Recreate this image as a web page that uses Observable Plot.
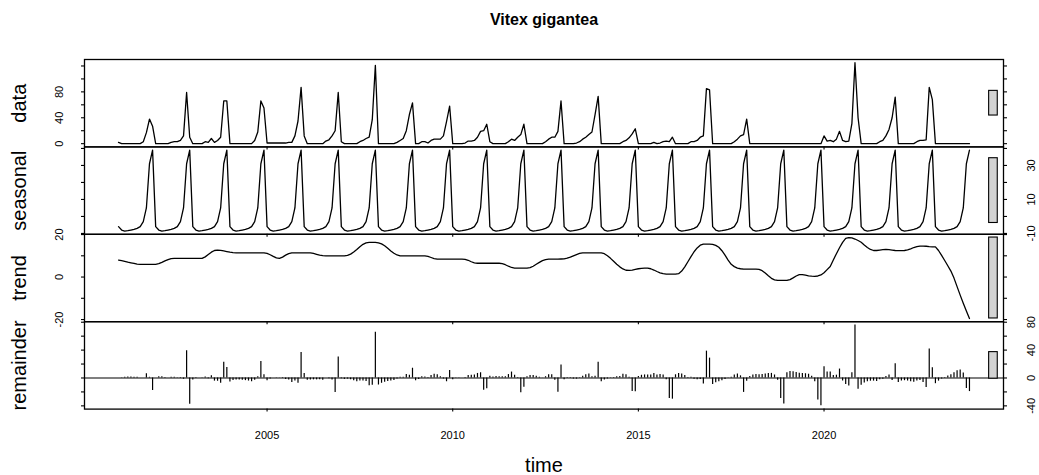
<!DOCTYPE html>
<html>
<head>
<meta charset="utf-8">
<script src="https://cdn.jsdelivr.net/npm/d3@7"></script>
<script src="https://cdn.jsdelivr.net/npm/@observablehq/plot@0.6"></script>
<style>
  body { margin: 0; background: #fff; }
  #chart { position: relative; width: 1039px; height: 475px; font-family: "Liberation Sans", Arial, sans-serif; }
  #chart svg { position: absolute; left: 0; top: 0; }
</style>
</head>
<body>
<div id="chart"></div>
<script>
// Monthly series, January 2001 to December 2023
const startYear = 2001;

// observed monthly values
const dataValues = [
  2, 0, 0, 0, 0, 0, 0, 0, 3, 17, 38, 27,        // 2001
  0, 0, 0, 0, 0, 2, 3, 3, 5, 12, 79, 10,        // 2002
  0, 0, 0, 0, 3, 2, 8, 2, 5, 10, 66, 66,        // 2003
  0, 0, 0, 0, 0, 0, 0, 0, 5, 18, 66, 55,        // 2004
  1, 1, 1, 1, 1, 1, 1, 2, 2, 12, 35, 87,        // 2005
  12, 0, 0, 0, 0, 0, 0, 4, 6, 12, 20, 79,       // 2006
  3, 0, 0, 0, 0, 0, 3, 5, 8, 10, 37, 121,       // 2007
  0, 0, 0, 0, 0, 0, 2, 5, 8, 20, 45, 63,        // 2008
  0, 0, 3, 3, 1, 5, 7, 7, 7, 12, 34, 58,        // 2009
  0, 0, 0, 0, 1, 4, 4, 5, 10, 19, 20, 30,       // 2010
  3, 0, 0, 0, 0, 0, 3, 7, 5, 10, 14, 30,        // 2011
  0, 0, 0, 0, 0, 0, 3, 7, 10, 10, 19, 66,       // 2012
  0, 0, 0, 0, 1, 3, 7, 10, 14, 18, 45, 73,      // 2013
  0, 0, 0, 0, 0, 0, 0, 3, 5, 9, 15, 23,         // 2014
  0, 0, 0, 0, 0, 2, 0, 1, 3, 4, 3, 10,          // 2015
  0, 0, 0, 0, 0, 3, 3, 5, 10, 12, 85, 83,       // 2016
  0, 0, 0, 0, 0, 0, 0, 3, 7, 12, 14, 38,        // 2017
  0, 0, 0, 0, 0, 0, 0, 0, 0, 0, 0, 0,           // 2018
  0, 0, 0, 0, 0, 0, 0, 0, 0, 0, 0, 0,           // 2019
  12, 4, 5, 3, 7, 19, 5, 3, 4, 31, 125, 40,     // 2020
  0, 0, 0, 0, 0, 0, 3, 5, 12, 22, 40, 72,       // 2021
  0, 0, 0, 0, 0, 0, 3, 5, 5, 6, 87, 68,         // 2022
  0, 0, 0, 0, 0, 0, 0, 0, 0, 0, 0, 0            // 2023
];

// periodic seasonal component, January .. December
const seasonalProfile = [-6, -8, -8.6, -8.4, -8, -7.6, -7, -6, -3, 5, 31, 39];

// trend component, one value per month
const trendValues = [
  8.0, 7.7, 7.4, 7.0, 6.7, 6.4, 6.1, 6.0, 6.0, 6.0, 6.0, 6.0,
  6.0, 6.3, 6.9, 7.6, 8.2, 8.7, 8.8, 8.8, 8.8, 8.8, 8.8, 8.8,
  8.8, 8.8, 8.8, 8.8, 9.5, 10.6, 11.7, 12.5, 12.7, 12.6, 12.3, 12.0,
  11.7, 11.5, 11.4, 11.4, 11.4, 11.4, 11.4, 11.4, 11.4, 11.4, 11.4, 11.4,
  11.1, 10.5, 9.7, 9.0, 8.8, 9.4, 10.3, 11.0, 11.4, 11.4, 11.4, 11.4,
  11.4, 11.4, 11.4, 11.1, 10.7, 10.3, 10.1, 10.0, 10.0, 10.0, 10.0, 10.0,
  10.0, 10.0, 10.2, 10.8, 11.8, 13.0, 14.3, 15.4, 16.1, 16.3, 16.3, 16.3,
  16.1, 15.6, 14.7, 13.5, 12.3, 11.2, 10.4, 10.0, 10.0, 10.0, 10.0, 10.0,
  10.0, 10.0, 10.0, 10.0, 9.7, 9.2, 8.7, 8.4, 8.4, 8.4, 8.4, 8.4,
  8.4, 8.4, 8.4, 8.4, 8.3, 7.9, 7.2, 6.7, 6.5, 6.5, 6.5, 6.5,
  6.5, 6.5, 6.5, 6.5, 6.3, 5.8, 5.1, 4.5, 4.2, 4.2, 4.2, 4.2,
  4.2, 4.4, 5.1, 6.0, 6.9, 7.7, 8.2, 8.4, 8.4, 8.4, 8.4, 8.5,
  8.6, 8.9, 9.4, 10.0, 10.6, 11.1, 11.4, 11.4, 11.4, 11.4, 11.4, 11.4,
  11.4, 11.0, 10.0, 8.8, 7.4, 6.0, 4.8, 3.8, 3.2, 3.1, 3.3, 3.6,
  3.9, 4.1, 4.2, 4.2, 3.9, 3.3, 2.6, 2.0, 1.6, 1.4, 1.4, 1.4,
  1.4, 1.6, 2.8, 4.8, 7.2, 9.6, 11.9, 13.7, 15.0, 15.5, 15.5, 15.5,
  15.4, 14.9, 14.0, 12.4, 10.3, 8.0, 6.0, 4.9, 4.2, 3.9, 3.7, 3.7,
  3.7, 3.7, 3.7, 3.6, 3.0, 1.9, 0.6, -0.6, -1.3, -1.6, -1.6, -1.6,
  -1.6, -1.2, -0.4, 0.5, 1.1, 1.1, 0.9, 0.6, 0.4, 0.3, 0.5, 1.0,
  2.0, 3.5, 5.0, 8.0, 11.0, 13.8, 16.3, 18.2, 18.6, 18.4, 17.9, 17.2,
  16.4, 15.1, 13.9, 13.0, 12.5, 12.5, 12.7, 12.9, 13.0, 12.9, 12.7, 12.5,
  12.4, 12.4, 12.5, 12.8, 13.3, 13.9, 14.3, 14.6, 14.6, 14.5, 14.3, 14.2,
  14.2, 12.5, 10.2, 7.8, 5.3, 2.8, -0.5, -4.5, -8.5, -12.3, -16.0, -19.5
];

// axis ticks and the tick values that carry a label
const timeTicks = [2005, 2010, 2015, 2020];
const dataTicks = [0, 20, 40, 60, 80, 100, 120];
const dataTickLabels = [0, 40, 80];
const seasonalTicks = [-10, 0, 10, 20, 30, 40];
const seasonalTickLabels = [-10, 10, 30];
const trendTicks = [-20, -10, 0, 10, 20];
const trendTickLabels = [-20, 0, 20];
const remainderTicks = [-40, -20, 0, 20, 40, 60, 80];
const remainderTickLabels = [-40, 0, 40, 80];

const panelNames = ["data", "seasonal", "trend", "remainder"];
const chartTitle = "Vitex gigantea";
const timeLabel = "time";

// ---- derived series ----
const months = dataValues.map((_, i) => startYear + i / 12);
const seasonal = months.map((_, i) => seasonalProfile[i % 12]);
// what is left once seasonal and trend are taken out of the observations
const remainder = dataValues.map((v, i) => v - seasonal[i] - trendValues[i]);

const panels = [
  {name: panelNames[0], values: dataValues, ticks: dataTicks, labels: dataTickLabels, side: "left", bars: false},
  {name: panelNames[1], values: seasonal, ticks: seasonalTicks, labels: seasonalTickLabels, side: "right", bars: false},
  {name: panelNames[2], values: trendValues, ticks: trendTicks, labels: trendTickLabels, side: "left", bars: false},
  {name: panelNames[3], values: remainder, ticks: remainderTicks, labels: remainderTickLabels, side: "right", bars: true}
];

// time axis spans the series with 4% slack at both ends
const t0 = months[0], t1 = months[months.length - 1];
const xDomain = [t0 - 0.04 * (t1 - t0), t1 + 0.04 * (t1 - t0)];
// every range bar has the height of the smallest component range
const barHeight = d3.min(panels, p => { const [a, b] = d3.extent(p.values); return b - a; });
const barDx = (xDomain[1] - xDomain[0]) / 64;

const W = 1039, H = 475;
const ML = 84, MR = 36;
const TOP = 59, PH = 87.4;
const FONT = "'Liberation Sans', Arial, Helvetica, sans-serif";

const chart = document.getElementById("chart");

panels.forEach((p, k) => {
  const [lo, hi] = d3.extent(p.values);
  const pad = 0.04 * (hi - lo);
  const yDomain = [lo - pad, hi + pad];
  const top = TOP + k * PH;
  const pts = p.values.map((v, i) => ({t: months[i], v}));
  const ticks = p.ticks.filter(d => d >= yDomain[0] && d <= yDomain[1]);
  const mid = (lo + hi) / 2;
  const isLast = k === panels.length - 1;

  const marks = [];
  if (p.bars) {
    marks.push(Plot.ruleY([0], {stroke: "#000", strokeWidth: 1.1}));
    marks.push(Plot.ruleX(pts, {x: "t", y1: 0, y2: "v", stroke: "#000", strokeWidth: 1.2}));
  } else {
    marks.push(Plot.line(pts, {x: "t", y: "v", stroke: "#000", strokeWidth: 1.3}));
  }
  // range bar at the right-hand side of the panel
  marks.push(Plot.rect([{x1: xDomain[1] - barDx, x2: xDomain[1] - 0.4 * barDx, y1: mid - barHeight / 2, y2: mid + barHeight / 2}],
    {x1: "x1", x2: "x2", y1: "y1", y2: "y2", fill: "#d3d3d3", stroke: "#000", strokeWidth: 1.1}));
  marks.push(Plot.frame({stroke: "#000", strokeWidth: 1.3}));

  // y ticks on both sides, labels on alternating sides
  marks.push(Plot.axisY(ticks, {anchor: "left", tickSize: 3, tickFormat: () => "", label: null, strokeWidth: 1.1}));
  marks.push(Plot.axisY(ticks, {anchor: "right", tickSize: 3, tickFormat: () => "", label: null, strokeWidth: 1.1}));
  marks.push(Plot.text(p.labels.filter(d => d >= yDomain[0] && d <= yDomain[1]), {
    y: d => d, text: d => String(d), frameAnchor: p.side,
    dx: p.side === "left" ? -25.5 : 27.5, rotate: -90,
    fontSize: 11, textAnchor: "middle", lineAnchor: "middle", fill: "#000"
  }));

  // time ticks under every panel, labelled under the last one
  marks.push(Plot.axisX(timeTicks, {
    anchor: "bottom", tickSize: 3, label: null, strokeWidth: 1.1,
    tickFormat: isLast ? d => String(d) : () => "", tickPadding: 19, fontSize: 11
  }));

  // panel name
  marks.push(Plot.text([p.name], {text: d => d, frameAnchor: "left", dx: -64.8, rotate: -90,
    fontSize: 20, textAnchor: "middle", lineAnchor: "middle", fill: "#000"}));

  if (k === 0) {
    marks.push(Plot.text([chartTitle], {text: d => d, frameAnchor: "top", dy: -40,
      fontSize: 16, fontWeight: "bold", textAnchor: "middle", lineAnchor: "middle", fill: "#000"}));
  }
  if (isLast) {
    marks.push(Plot.text([timeLabel], {text: d => d, frameAnchor: "bottom", dy: 56.5,
      fontSize: 20, textAnchor: "middle", lineAnchor: "middle", fill: "#000"}));
  }

  const svg = Plot.plot({
    width: W, height: H,
    marginLeft: ML, marginRight: MR,
    marginTop: top, marginBottom: H - top - PH,
    x: {domain: xDomain},
    y: {domain: yDomain},
    style: {background: "transparent", overflow: "visible", fontFamily: FONT, fontSize: "11px", color: "#000"},
    marks
  });
  chart.appendChild(svg);
});
</script>
</body>
</html>
